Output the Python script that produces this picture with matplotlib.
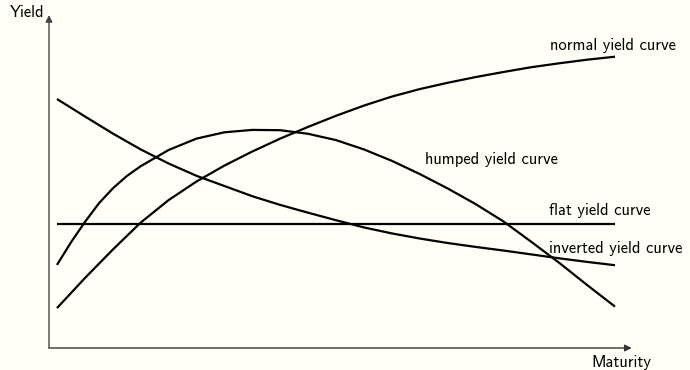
import matplotlib.pyplot as plt

# Schematic yield curves (maturity 0..10, yield in arbitrary units)
mat_grid = [0, 0.5, 1, 1.5, 2, 2.5, 3, 3.5, 4, 4.5, 5, 5.5, 6, 6.5, 7, 7.5, 8, 8.5, 9, 9.5, 10]
normal = [1.33, 2.33, 3.28, 4.18, 4.93, 5.55, 6.08, 6.55, 6.98, 7.37, 7.74, 8.08,
          8.38, 8.63, 8.84, 9.03, 9.20, 9.36, 9.49, 9.61, 9.71]
inverted = [8.30, 7.72, 7.15, 6.62, 6.15, 5.74, 5.40, 5.06, 4.77, 4.51, 4.26, 4.02,
            3.82, 3.65, 3.50, 3.37, 3.25, 3.12, 2.99, 2.87, 2.76]
flat = [4.13] * len(mat_grid)

mat_humped = [0, 0.25, 0.5, 0.75, 1, 1.25, 1.5, 2, 2.5, 3, 3.5, 4, 4.5, 5, 5.5, 6,
              6.5, 7, 7.5, 8, 8.5, 9, 9.5, 10]
humped = [2.77, 3.52, 4.20, 4.82, 5.32, 5.73, 6.06, 6.60, 6.98, 7.19, 7.27, 7.26,
          7.14, 6.93, 6.62, 6.24, 5.80, 5.32, 4.80, 4.22, 3.54, 2.84, 2.10, 1.38]

labels = ['normal yield curve', 'humped yield curve', 'flat yield curve', 'inverted yield curve']
label_pos = [(8.84, 10.1), (6.59, 6.27), (8.82, 4.57), (8.82, 3.33)]

bg = '#fffff7'
font = 'cmss10'
fs = 11.9

fig = plt.figure(figsize=(6.9, 3.7), dpi=100, facecolor=bg)
ax = fig.add_axes([0, 0, 1, 1])
ax.set_facecolor(bg)
ax.set_xlim(-1.021, 11.344)
ax.set_ylim(-0.733, 11.6)
ax.axis('off')

for xs, ys in ((mat_grid, normal), (mat_humped, humped), (mat_grid, flat), (mat_grid, inverted)):
    ax.plot(xs, ys, color='black', lw=1.6, solid_capstyle='butt', solid_joinstyle='round')

# axes with arrows
x0, y0 = -0.143, 0.0
ax.annotate('', xy=(10.3, y0), xytext=(x0, y0),
            arrowprops=dict(arrowstyle='-|>', color='#333333', lw=1.0,
                            mutation_scale=10, shrinkA=0, shrinkB=0))
ax.annotate('', xy=(x0, 11.1), xytext=(x0, y0),
            arrowprops=dict(arrowstyle='-|>', color='#444444', lw=1.0,
                            mutation_scale=10, shrinkA=0, shrinkB=0))

ax.text(-0.84, 11.2, 'Yield', family=font, fontsize=fs, va='center', ha='left')
ax.text(10.11, -0.47, 'Maturity', family=font, fontsize=fs, va='center', ha='center')

for lab, (lx, ly) in zip(labels, label_pos):
    ax.text(lx, ly, lab, family=font, fontsize=fs, va='center', ha='left')

fig.savefig('out.png', dpi=100, facecolor=bg)
